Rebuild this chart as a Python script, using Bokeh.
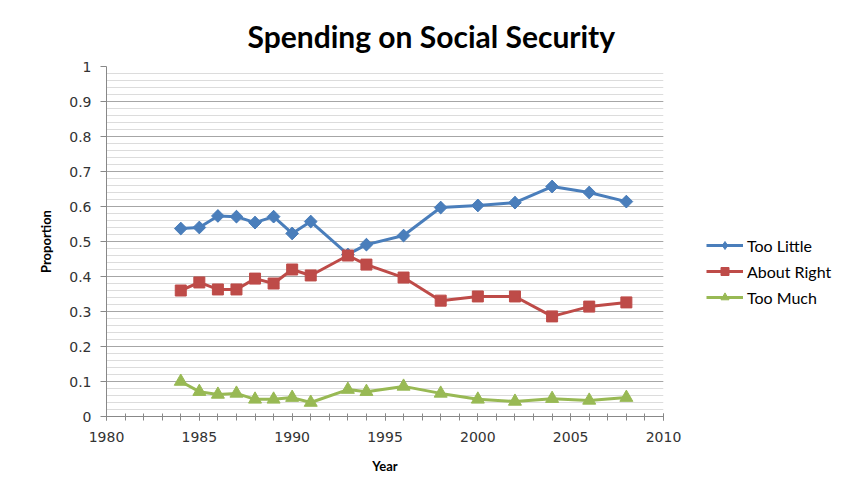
import math
from bokeh.plotting import figure
from bokeh.models import FixedTicker, Legend, LegendItem
from bokeh.embed import file_html
from bokeh.resources import INLINE

title_text = "Spending on Social Security"
years = [1984, 1985, 1986, 1987, 1988, 1989, 1990, 1991, 1993, 1994, 1996, 1998, 2000, 2002, 2004, 2006, 2008]
too_little = [0.537, 0.540, 0.573, 0.571, 0.554, 0.571, 0.523, 0.557, 0.463, 0.491, 0.517, 0.597, 0.603, 0.611, 0.657, 0.640, 0.614]
about_right = [0.360, 0.383, 0.363, 0.363, 0.394, 0.380, 0.420, 0.403, 0.460, 0.434, 0.397, 0.331, 0.343, 0.343, 0.286, 0.314, 0.326]
too_much = [0.100, 0.071, 0.063, 0.066, 0.049, 0.049, 0.054, 0.040, 0.077, 0.071, 0.086, 0.066, 0.049, 0.043, 0.051, 0.046, 0.054]
series_names = ["Too Little", "About Right", "Too Much"]
x_ticks = [1980, 1985, 1990, 1995, 2000, 2005, 2010]
x_minor = list(range(1980, 2011))
y_ticks = [0, 0.1, 0.2, 0.3, 0.4, 0.5, 0.6, 0.7, 0.8, 0.9, 1]
y_tick_labels = ["0", "0.1", "0.2", "0.3", "0.4", "0.5", "0.6", "0.7", "0.8", "0.9", "1"]
y_minor = [i / 50 for i in range(51)]

p = figure(frame_width=557, frame_height=350, x_range=(1980, 2010), y_range=(0, 1),
           output_backend="svg", toolbar_location=None,
           min_border_left=106, min_border_top=66, min_border_right=162, min_border_bottom=57,
           title=title_text)
p.outline_line_color = None
p.background_fill_color = "white"
p.border_fill_color = "white"

p.title.text_font = "Lato"
p.title.text_font_size = "30px"
p.title.text_font_style = "bold"
p.title.text_color = "black"
p.title.align = "left"
p.title.offset = 141
p.title.standoff = 25

# axes
p.xaxis.ticker = FixedTicker(ticks=x_ticks, minor_ticks=x_minor)
p.yaxis.ticker = FixedTicker(ticks=y_ticks, minor_ticks=y_minor)
p.yaxis.major_label_overrides = {t: l for t, l in zip(y_ticks, y_tick_labels)}
p.xaxis.axis_label = "Year"
p.yaxis.axis_label = "Proportion"
for ax in (p.xaxis, p.yaxis):
    ax.axis_label_text_font = "Lato"
    ax.axis_label_text_font_style = "bold"
    ax.axis_label_text_font_size = "13px"
    ax.axis_label_text_color = "black"
    ax.major_label_text_font = "DejaVu Sans"
    ax.major_label_text_font_size = "14px"
    ax.major_label_text_color = "#333333"
    ax.axis_line_color = "#888888"
    ax.major_tick_line_color = "#888888"
    ax.minor_tick_line_color = "#888888"
p.yaxis.major_tick_in = 0
p.yaxis.major_tick_out = 6
p.yaxis.minor_tick_line_color = None
p.yaxis.major_label_standoff = 9
p.yaxis.axis_label_standoff = 12
p.xaxis.major_tick_in = 3
p.xaxis.major_tick_out = 4
p.xaxis.minor_tick_in = 3
p.xaxis.minor_tick_out = 4
p.xaxis.major_label_standoff = 11
p.xaxis.axis_label_standoff = 13

p.xgrid.grid_line_color = None
p.ygrid.grid_line_color = "#a6a6a6"
p.ygrid.minor_grid_line_color = "#dcdcdc"

colors = ["#4A7EBB", "#BE4B48", "#98B954"]
markers = ["square", "square", "triangle"]
sizes = [9, 11, 13]
angles = [math.pi / 4, 0, 0]
legend_markers = ["diamond", "square", "triangle"]
legend_sizes = [12, 8, 9]
items = []
for name, vals, col, mk, sz, ang, lmk, lsz in zip(series_names, [too_little, about_right, too_much], colors,
                                                  markers, sizes, angles, legend_markers, legend_sizes):
    r1 = p.line(years, vals, line_color=col, line_width=3)
    # smaller marker (hidden beneath the plotted marker) used for the legend glyph
    r3 = p.scatter(years, vals, marker=lmk, size=lsz, fill_color=col, line_color=col)
    r2 = p.scatter(years, vals, marker=mk, size=sz, angle=ang, fill_color=col, line_color=col)
    items.append(LegendItem(label=name, renderers=[r1, r3]))

legend = Legend(items=items, location=(43, 109))
legend.border_line_color = None
legend.background_fill_alpha = 0
legend.label_text_font = "Lato"
legend.label_text_font_size = "16px"
legend.label_text_color = "black"
legend.glyph_width = 37
legend.glyph_height = 20
legend.label_height = 20
legend.spacing = 6
legend.padding = 5
legend.margin = 0
legend.label_standoff = 4
p.add_layout(legend, "right")

open("out.html", "w").write(file_html(p, INLINE))
